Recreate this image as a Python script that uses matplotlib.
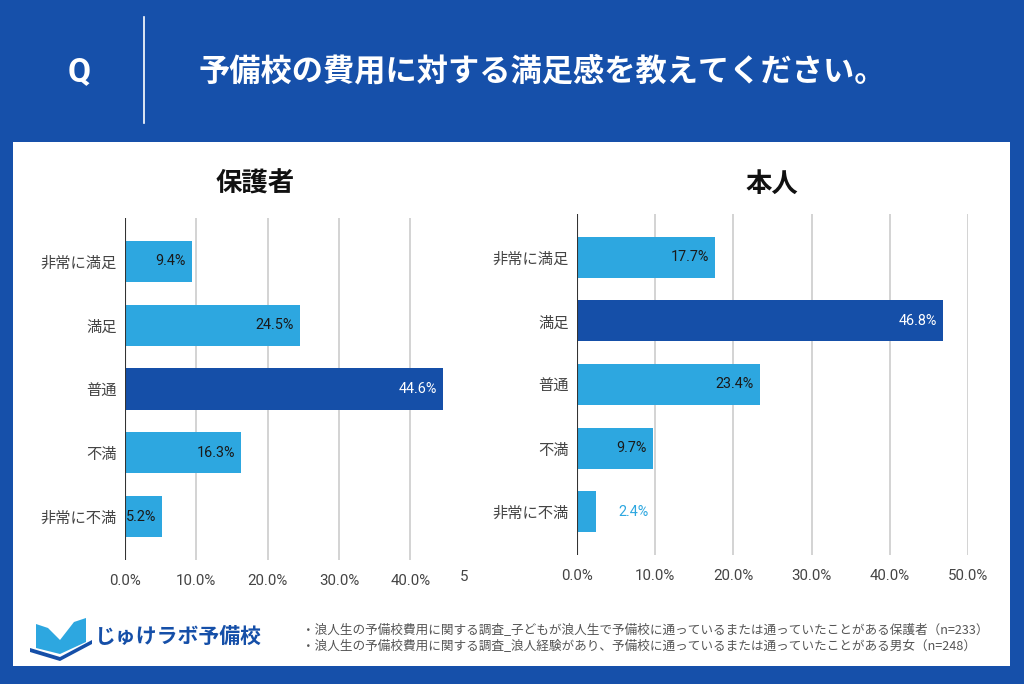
import matplotlib
matplotlib.use("Agg")
import matplotlib.pyplot as plt
from matplotlib.patches import Rectangle, Polygon

plt.rcParams['font.family'] = ['Noto Sans CJK JP', 'DejaVu Sans']
NUMFONT = ['Roboto', 'Noto Sans CJK JP', 'DejaVu Sans']

# ---- data ----
title = "予備校の費用に対する満足感を教えてください。"
categories = ["非常に満足", "満足", "普通", "不満", "非常に不満"]
left_title = "保護者"
left_values = [9.4, 24.5, 44.6, 16.3, 5.2]
right_title = "本人"
right_values = [17.7, 46.8, 23.4, 9.7, 2.4]
xticks = [0, 10, 20, 30, 40, 50]
xtick_labels = ["0.0%", "10.0%", "20.0%", "30.0%", "40.0%", "50.0%"]
notes = [
    "・浪人生の予備校費用に関する調査_子どもが浪人生で予備校に通っているまたは通っていたことがある保護者（n=233）",
    "・浪人生の予備校費用に関する調査_浪人経験があり、予備校に通っているまたは通っていたことがある男女（n=248）",
]
brand = "じゅけラボ予備校"

W, H = 1024, 684
BG = "#1650AA"
LIGHT = "#2DA7E0"
DARK = "#154FA8"

fig = plt.figure(figsize=(W / 100, H / 100), dpi=100)
fig.patch.set_facecolor(BG)

def fx(px):
    return px / W

def fy(py):
    return 1 - py / H

# white panel
fig.patches.append(Rectangle((fx(13), fy(666)), fx(1010) - fx(13), fy(142) - fy(666),
                             transform=fig.transFigure, facecolor="white", edgecolor="none", zorder=-5))

# header
fig.text(fx(79), fy(72), "Q", color="white", fontsize=24, fontweight="bold",
         ha="center", va="center", family=["Roboto", "DejaVu Sans"])
fig.add_artist(plt.Line2D([fx(144), fx(144)], [fy(17), fy(123)], color="white", lw=1.2,
                          transform=fig.transFigure))
fig.text(fx(199), fy(71), title, color="white", fontsize=22.5, fontweight="bold",
         ha="left", va="center")


def draw_panel(left, right, top, bottom, values, subtitle, sub_x, xmax_show):
    ax = fig.add_axes([fx(left), fy(bottom), fx(right) - fx(left), fy(top) - fy(bottom)])
    ax.set_zorder(2)
    ax.set_facecolor("none")
    ypos = list(range(len(categories)))
    vmax = max(values)
    colors = [DARK if v == vmax else LIGHT for v in values]
    ax.barh(ypos, values, height=0.645, color=colors, zorder=3)
    ax.set_xlim(0, 50)
    ax.set_ylim(len(categories) - 1 + 0.68, -0.68)
    for x in xticks[1:]:
        if x <= xmax_show:
            ax.axvline(x, color="#d0d0d0", lw=1.3, zorder=1)
    ax.axvline(0, color="#333333", lw=1.5, zorder=4)
    for s in ax.spines.values():
        s.set_visible(False)
    shown = [t for t in xticks if t <= xmax_show]
    ax.set_xticks(shown)
    ax.set_xticklabels([xtick_labels[xticks.index(t)] for t in shown], family=NUMFONT)
    ax.set_yticks(ypos)
    ax.set_yticklabels(categories)
    ax.tick_params(axis="both", length=0, colors="#444444")
    ax.tick_params(axis="x", labelsize=10.8, pad=10)
    ax.tick_params(axis="y", labelsize=11, pad=6)
    for y, v, c in zip(ypos, values, colors):
        if v < 4:
            ax.annotate(f"{v:.1f}%", (v, y), xytext=(16, 0), textcoords="offset points",
                        ha="left", va="center", fontsize=10.4, color=LIGHT, family=NUMFONT)
        else:
            ax.annotate(f"{v:.1f}%", (v, y), xytext=(-4.5, 0), textcoords="offset points",
                        ha="right", va="center", fontsize=10.4, family=NUMFONT,
                        color="white" if c == DARK else "#1a1a1a", zorder=5)
    fig.text(fx(sub_x), fy(184), subtitle, fontsize=19, fontweight="bold",
             ha="center", va="center", color="#111111")
    return ax

axL = draw_panel(125, 481.5, 218, 560, left_values, left_title, 255, 40)
fig.text(fx(464), fy(577), "5", fontsize=10.8, color="#444444", ha="center", va="center",
         family=NUMFONT)
axR = draw_panel(577, 968, 214, 555, right_values, right_title, 772, 50)

# footnotes
fig.text(fx(302), fy(631), notes[0], fontsize=9.1, color="#555555", ha="left", va="center")
fig.text(fx(302), fy(647), notes[1], fontsize=9.1, color="#555555", ha="left", va="center")

# logo: simple book icon + text
fig.patches.append(Polygon([(fx(36), fy(624)), (fx(48), fy(628)), (fx(60), fy(640)),
                            (fx(60), fy(654)), (fx(36), fy(648))],
                           closed=True, transform=fig.transFigure, facecolor=LIGHT, edgecolor="none"))
fig.patches.append(Polygon([(fx(60), fy(640)), (fx(74), fy(622)), (fx(86), fy(618)),
                            (fx(86), fy(642)), (fx(60), fy(654))],
                           closed=True, transform=fig.transFigure, facecolor=LIGHT, edgecolor="none"))
fig.patches.append(Polygon([(fx(30), fy(648)), (fx(60), fy(657)), (fx(92), fy(640)),
                            (fx(92), fy(644)), (fx(60), fy(661)), (fx(30), fy(652))],
                           closed=True, transform=fig.transFigure, facecolor=DARK, edgecolor="none"))
fig.text(fx(95), fy(636), brand, fontsize=15, fontweight="bold", color=DARK,
         ha="left", va="center")

fig.savefig("out.png", dpi=100, facecolor=BG)
